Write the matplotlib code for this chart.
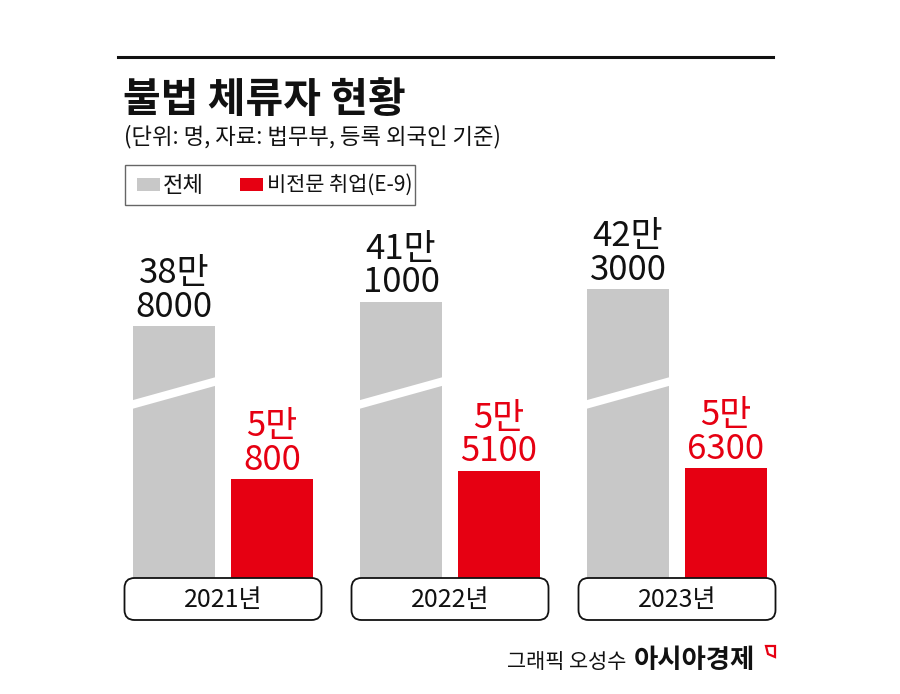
import numpy as np
import matplotlib
matplotlib.use("Agg")
import matplotlib.pyplot as plt
from matplotlib.patches import FancyBboxPatch, Rectangle, Polygon
from matplotlib.lines import Line2D

plt.rcParams['font.family'] = ['Noto Sans CJK KR', 'DejaVu Sans']

# ---- data ----
years = ["2021년", "2022년", "2023년"]
total = [388000, 411000, 423000]      # 전체
e9 = [50800, 55100, 56300]            # 비전문 취업(E-9)
series_names = ["전체", "비전문 취업(E-9)"]
title = "불법 체류자 현황"
subtitle = "(단위: 명, 자료: 법무부, 등록 외국인 기준)"
credit = "그래픽 오성수"
brand = "아시아경제"

GRAY = "#c8c8c8"
RED = "#e60012"

W, H = 900, 694
fig = plt.figure(figsize=(W / 100, H / 100), dpi=100)

def fx(x):
    return x / W

def fy(y):
    return 1 - y / H

# broken (piecewise-linear) value scale
B1, B2 = 60000.0, 380000.0
S1, S3 = 0.00195, 0.00106
F1 = B1 * S1
F2 = 243.5
S2 = (F2 - F1) / (B2 - B1)

def fwd(v):
    v = np.asarray(v, dtype=float)
    return np.where(v <= B1, v * S1,
                    np.where(v <= B2, F1 + (v - B1) * S2, F2 + (v - B2) * S3))

def inv(p):
    p = np.asarray(p, dtype=float)
    return np.where(p <= F1, p / S1,
                    np.where(p <= F2, B1 + (p - F1) / S2, B2 + (p - F2) / S3))

ax_bottom_px, ax_top_px = 578, 200
ax = fig.add_axes([fx(100), fy(ax_bottom_px), fx(800) - fx(100), (ax_bottom_px - ax_top_px) / H])
ax.set_yscale('function', functions=(fwd, inv))
ax.set_ylim(0, float(inv(ax_bottom_px - ax_top_px)))
spacing = 227.0
ax.set_xlim((100 - 223) / spacing, (800 - 223) / spacing)
ax.axis('off')

x = np.arange(len(years))
off = 49 / spacing
bw = 82 / spacing
ax.bar(x - off, total, width=bw, color=GRAY, zorder=2)
ax.bar(x + off, e9, width=bw, color=RED, zorder=2)

# break marks on the gray bars
axh = ax_bottom_px - ax_top_px
for xi in x:
    l, r = xi - off - bw / 2 - 0.01, xi - off + bw / 2 + 0.01
    yl, yr = (578 - 405) / axh, (578 - 381) / axh
    t = 4.3 / axh
    poly = Polygon([(l, yl - t), (r, yr - t), (r, yr + t), (l, yl + t)],
                   closed=True, facecolor="white", edgecolor="none",
                   transform=ax.get_xaxis_transform(), zorder=3)
    ax.add_patch(poly)

def label(v):
    return f"{v // 10000}만\n{v % 10000}"

for xi, v in zip(x, total):
    ax.annotate(label(v), (xi - off, v), xytext=(0, 1), textcoords='offset points',
                ha='center', va='bottom', fontsize=25, color="#111111", linespacing=0.95)
for xi, v in zip(x, e9):
    ax.annotate(label(v), (xi + off, v), xytext=(0, 1), textcoords='offset points',
                ha='center', va='bottom', fontsize=25, color=RED, linespacing=0.95)

# year boxes
fig.canvas.draw()
r = 10
for xi, yr in zip(x, years):
    cx_disp = ax.transData.transform((xi, 1))[0]
    cx = cx_disp / fig.dpi * 100  # pixel
    bx0, bx1 = cx - 98.5, cx + 98.5
    by0, by1 = 578, 620
    box = FancyBboxPatch((fx(bx0), fy(by1)), fx(bx1) - fx(bx0), fy(by0) - fy(by1),
                         boxstyle=f"round,pad=0,rounding_size={r / W}",
                         mutation_aspect=W / H, transform=fig.transFigure,
                         facecolor="white", edgecolor="#111111", linewidth=1.3)
    fig.patches.append(box)
    fig.text(fx(cx), fy((by0 + by1) / 2 + 1), yr, ha='center', va='center',
             fontsize=18, color="#111111")

# top rule
fig.add_artist(Line2D([fx(118), fx(773)], [fy(57), fy(57)], color="#111111",
                      linewidth=2.2, transform=fig.transFigure))

# title & subtitle
fig.text(fx(123), fy(100), title, ha='left', va='center', fontsize=29.5,
         fontweight='bold', color="#111111")
fig.text(fx(124), fy(137), subtitle, ha='left', va='center', fontsize=16,
         color="#111111")

# legend
fig.patches.append(Rectangle((fx(125), fy(205)), fx(415) - fx(125), fy(165) - fy(205),
                             transform=fig.transFigure, facecolor="white",
                             edgecolor="#666666", linewidth=1.0))
fig.patches.append(Rectangle((fx(137), fy(191)), fx(160) - fx(137), fy(178) - fy(191),
                             transform=fig.transFigure, facecolor=GRAY, edgecolor="none"))
fig.text(fx(163), fy(185), series_names[0], ha='left', va='center', fontsize=16, color="#111111")
fig.patches.append(Rectangle((fx(240), fy(191)), fx(263) - fx(240), fy(178) - fy(191),
                             transform=fig.transFigure, facecolor=RED, edgecolor="none"))
fig.text(fx(267), fy(185), series_names[1], ha='left', va='center', fontsize=15, color="#111111")

# footer
fig.text(fx(507), fy(662), credit, ha='left', va='center', fontsize=15, color="#111111")
fig.text(fx(634), fy(661), brand, ha='left', va='center', fontsize=19,
         fontweight='bold', color="#111111")
fig.patches.append(Polygon([(fx(766), fy(646)), (fx(775), fy(646)), (fx(775), fy(657)), (fx(768), fy(654))],
                           closed=True, transform=fig.transFigure, facecolor="none",
                           edgecolor=RED, linewidth=1.6))

fig.savefig("out.png", dpi=100, facecolor="white")
